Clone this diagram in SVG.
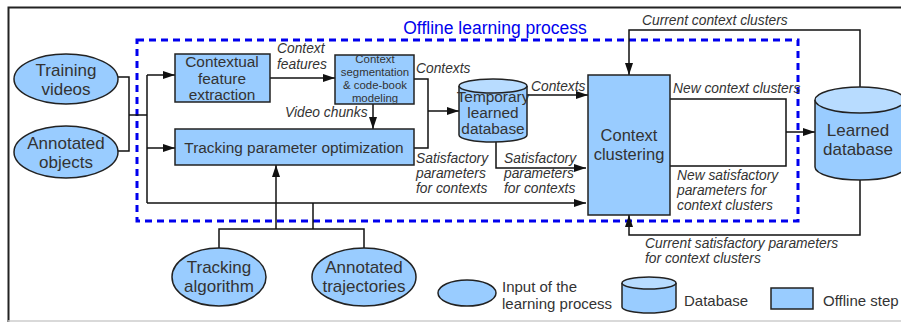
<svg xmlns="http://www.w3.org/2000/svg" width="901" height="322" viewBox="0 0 901 322">
<defs>
<marker id="ah" markerWidth="12" markerHeight="8" refX="12" refY="4" orient="auto" markerUnits="userSpaceOnUse">
<path d="M0,0 L12,4 L0,8 Z" fill="#111"/>
</marker>
<style>
.n{fill:#99ccff;stroke:#222;stroke-width:1.5}
.top{fill:#b8dcff;stroke:#222;stroke-width:1.5}
.c{fill:none;stroke:#111;stroke-width:1.5}
.a{fill:none;stroke:#111;stroke-width:1.5;marker-end:url(#ah)}
text{font-family:"Liberation Sans",Arial,sans-serif;fill:#333}
.t{font-size:15.4px;text-anchor:middle}
.i{font-size:13.8px;font-style:italic}
.s{font-size:11.4px;text-anchor:middle}
.l{font-size:15px}
</style>
</defs>
<rect width="901" height="322" fill="#fff"/>
<path d="M8.5,322 V7.5 H901" fill="none" stroke="#222" stroke-width="2"/>
<line x1="8" y1="321" x2="901" y2="321" stroke="#ccc" stroke-width="1.5"/>
<rect x="137" y="40" width="661" height="181" fill="none" stroke="#0000ee" stroke-width="3" stroke-dasharray="7,5"/>
<text x="495" y="34" style="font-size:17.5px;fill:#0000ee;text-anchor:middle">Offline learning process</text>

<g id="connectors">
<path class="c" d="M118,77 H129 V151 H118"/>
<path class="c" d="M129,115 H147"/>
<path class="c" d="M147,75 V203"/>
<path class="a" d="M147,75 H175"/>
<path class="a" d="M147,148 H175"/>
<path class="a" d="M147,203 H586"/>
<path class="a" d="M270,78 H335"/>
<path class="a" d="M373,104 V129"/>
<path class="c" d="M414,79 H428 V148 H414"/>
<path class="a" d="M428,111 H459"/>
<path class="a" d="M527,95 H588"/>
<path class="a" d="M496,142 V168 H586"/>
<path class="a" d="M860,100 V30 H629 V75"/>
<path class="c" d="M670,99 H786 V166 H670"/>
<path class="a" d="M786,132 H815"/>
<path class="a" d="M860,180 V235 H629 V215"/>
<path class="a" d="M276,229 V165"/>
<path class="c" d="M313,229 V203"/>
<path class="c" d="M219,248 V229 H364 V248"/>
<text class="i" x="277" y="53">Context</text>
<text class="i" x="277" y="69">features</text>
<text class="i" x="285" y="117">Video chunks</text>
<text class="i" x="416" y="73">Contexts</text>
<text class="i" x="531" y="91">Contexts</text>
<text class="i" x="416" y="163">Satisfactory</text>
<text class="i" x="416" y="178">parameters</text>
<text class="i" x="416" y="193">for contexts</text>
<text class="i" x="504" y="163">Satisfactory</text>
<text class="i" x="504" y="178">parameters</text>
<text class="i" x="504" y="193">for contexts</text>
<text class="i" x="642" y="25">Current context clusters</text>
<text class="i" x="673" y="93">New context clusters</text>
<text class="i" x="677" y="180">New satisfactory</text>
<text class="i" x="677" y="195">parameters for</text>
<text class="i" x="677" y="210">context clusters</text>
<text class="i" x="645" y="248">Current satisfactory parameters</text>
<text class="i" x="645" y="263">for context clusters</text>
</g>

<g id="training-videos">
<ellipse class="n" cx="66" cy="79" rx="52" ry="25"/>
<text class="t" x="66" y="76" style="font-size:17px">Training</text>
<text class="t" x="66" y="95" style="font-size:17px">videos</text>
</g>
<g id="annotated-objects">
<ellipse class="n" cx="66" cy="152" rx="52" ry="26"/>
<text class="t" x="66" y="149" style="font-size:17px">Annotated</text>
<text class="t" x="66" y="168" style="font-size:17px">objects</text>
</g>
<g id="contextual-feature-extraction">
<rect class="n" x="175" y="54" width="95" height="48"/>
<text class="t" x="222" y="67">Contextual</text>
<text class="t" x="222" y="84">feature</text>
<text class="t" x="222" y="100">extraction</text>
</g>
<g id="tracking-parameter-optimization">
<rect class="n" x="175" y="129" width="239" height="36"/>
<text class="t" x="294" y="153">Tracking parameter optimization</text>
</g>
<g id="context-segmentation">
<rect class="n" x="335" y="55" width="79" height="49"/>
<text class="s" x="375" y="63">Context</text>
<text class="s" x="375" y="76">segmentation</text>
<text class="s" x="375" y="89">&amp; code-book</text>
<text class="s" x="375" y="102">modeling</text>
</g>
<g id="temporary-learned-database">
<path class="n" d="M459,86 V135 A34,7 0 0 0 527,135 V86"/>
<ellipse class="top" cx="493" cy="86" rx="34" ry="7"/>
<text class="t" x="493" y="102">Temporary</text>
<text class="t" x="493" y="118">learned</text>
<text class="t" x="493" y="134">database</text>
</g>
<g id="context-clustering">
<rect class="n" x="588" y="75" width="82" height="140"/>
<text class="t" x="629" y="141" style="font-size:16.5px">Context</text>
<text class="t" x="629" y="160" style="font-size:16.5px">clustering</text>
</g>
<g id="learned-database">
<path class="n" d="M815,100 V167 A45,13 0 0 0 905,167 V100"/>
<ellipse class="top" cx="860" cy="100" rx="45" ry="13"/>
<text class="t" x="858" y="136" style="font-size:17px">Learned</text>
<text class="t" x="858" y="155" style="font-size:17px">database</text>
</g>
<g id="tracking-algorithm">
<ellipse class="n" cx="219" cy="277" rx="47" ry="29"/>
<text class="t" x="219" y="273" style="font-size:17px">Tracking</text>
<text class="t" x="219" y="292" style="font-size:17px">algorithm</text>
</g>
<g id="annotated-trajectories">
<ellipse class="n" cx="364" cy="277" rx="52" ry="29"/>
<text class="t" x="364" y="273" style="font-size:17px">Annotated</text>
<text class="t" x="364" y="292" style="font-size:17px">trajectories</text>
</g>
<g id="legend">
<ellipse class="n" cx="467" cy="293" rx="29" ry="13"/>
<text class="l" x="502" y="292">Input of the</text>
<text class="l" x="502" y="309">learning process</text>
<path class="n" d="M622,283 V307 A27,6 0 0 0 676,307 V283"/>
<ellipse class="top" cx="649" cy="283" rx="27" ry="6"/>
<text class="l" x="684" y="306">Database</text>
<rect class="n" x="771" y="288" width="42" height="21"/>
<text class="l" x="823" y="306">Offline step</text>
</g>
</svg>
